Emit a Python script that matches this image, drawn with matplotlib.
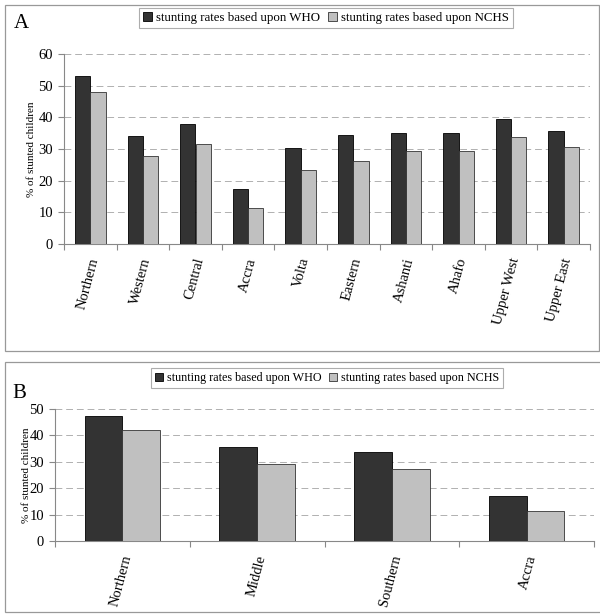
import numpy as np
import matplotlib.pyplot as plt
from matplotlib.patches import Rectangle

# panel A data
regions_a = ['Northern', 'Western', 'Central', 'Accra', 'Volta', 'Eastern',
             'Ashanti', 'Ahafo', 'Upper West', 'Upper East']
who_a = [53.2, 34.1, 37.8, 17.3, 30.4, 34.4, 35.2, 35.2, 39.5, 35.7]
nchs_a = [48.1, 27.7, 31.5, 11.5, 23.4, 26.1, 29.3, 29.3, 33.9, 30.7]

# panel B data
zones_b = ['Northern', 'Middle', 'Southern', 'Accra']
who_b = [47.4, 35.5, 33.9, 17.1]
nchs_b = [41.9, 29.1, 27.1, 11.3]

yticks_a = [0, 10, 20, 30, 40, 50, 60]
yticks_b = [0, 10, 20, 30, 40, 50]

plt.rcParams['font.family'] = ['Liberation Serif', 'DejaVu Serif']

DARK = '#333333'
LIGHT = '#c0c0c0'
W, H = 600, 616

fig = plt.figure(figsize=(6.0, 6.16), dpi=100)

# panel frames (pixel boxes)
for (x0, y0, x1, y1) in [(5, 5, 599, 351), (5, 362, 601, 612)]:
    fig.add_artist(Rectangle((x0 / W, 1 - y1 / H), (x1 - x0) / W, (y1 - y0) / H,
                             transform=fig.transFigure, fill=False,
                             edgecolor='#999999', lw=0.9))


def draw_panel(ax, cats, who, nchs, yticks, bw, lab_dx, lab_pad, ylab_x):
    x = np.arange(len(cats))
    ax.bar(x - bw / 2, who, bw, color=DARK, edgecolor='black', lw=0.6,
           label='stunting rates based upon WHO', zorder=3)
    ax.bar(x + bw / 2, nchs, bw, color=LIGHT, edgecolor='#333333', lw=0.6,
           label='stunting rates based upon NCHS', zorder=3)
    ax.set_xlim(-0.5, len(cats) - 0.5)
    ax.set_ylim(0, yticks[-1])
    ax.set_yticks(yticks)
    ax.set_yticklabels([str(t) for t in yticks], fontsize=10.5)
    ax.yaxis.grid(True, linestyle=(0, (7, 4)), color='#b0b0b0', lw=0.7, zorder=0)
    ax.set_axisbelow(True)
    for s in ['top', 'right']:
        ax.spines[s].set_visible(False)
    for s in ['left', 'bottom']:
        ax.spines[s].set_color('#888888')
        ax.spines[s].set_linewidth(0.8)
    # ticks at category boundaries
    ax.set_xticks(np.arange(len(cats) + 1) - 0.5)
    ax.set_xticklabels([])
    ax.tick_params(axis='x', length=4, color='#888888', direction='out')
    ax.tick_params(axis='y', length=4, color='#888888', direction='out', pad=4)
    for i, c in enumerate(cats):
        ax.text(i + lab_dx, -lab_pad, c, transform=ax.get_xaxis_transform(),
                rotation=75, rotation_mode='anchor', ha='right', va='center',
                fontsize=10.5)
    ax.set_ylabel('% of stunted children', fontsize=8)
    ax.yaxis.set_label_coords(ylab_x, 0.5)


ax_a = fig.add_axes([64 / W, 1 - 244 / H, (590 - 64) / W, (244 - 54) / H])
draw_panel(ax_a, regions_a, who_a, nchs_a, yticks_a, 0.29, 0.08, 0.075, -0.053)

ax_b = fig.add_axes([55 / W, 1 - 541 / H, (594 - 55) / W, (541 - 409) / H])
draw_panel(ax_b, zones_b, who_b, nchs_b, yticks_b, 0.28, 0.04, 0.11, -0.045)

fig.text(21 / W, 1 - 24 / H, 'A', fontsize=15, va='center', ha='center')
fig.text(19 / W, 1 - 393 / H, 'B', fontsize=15, va='center', ha='center')


def add_legend(ax, cx, cy, fs):
    leg = fig.legend(*ax.get_legend_handles_labels(), loc='center',
                     bbox_to_anchor=(cx / W, 1 - cy / H), ncol=2, fontsize=fs,
                     frameon=True, fancybox=False, handlelength=0.7,
                     handleheight=0.7, handletextpad=0.3, columnspacing=0.6,
                     borderpad=0.3)
    leg.get_frame().set_edgecolor('#999999')
    leg.get_frame().set_linewidth(0.8)
    return leg


add_legend(ax_a, 326, 18, 9.3)
add_legend(ax_b, 327, 378, 8.7)

fig.savefig('out.png', dpi=100)
